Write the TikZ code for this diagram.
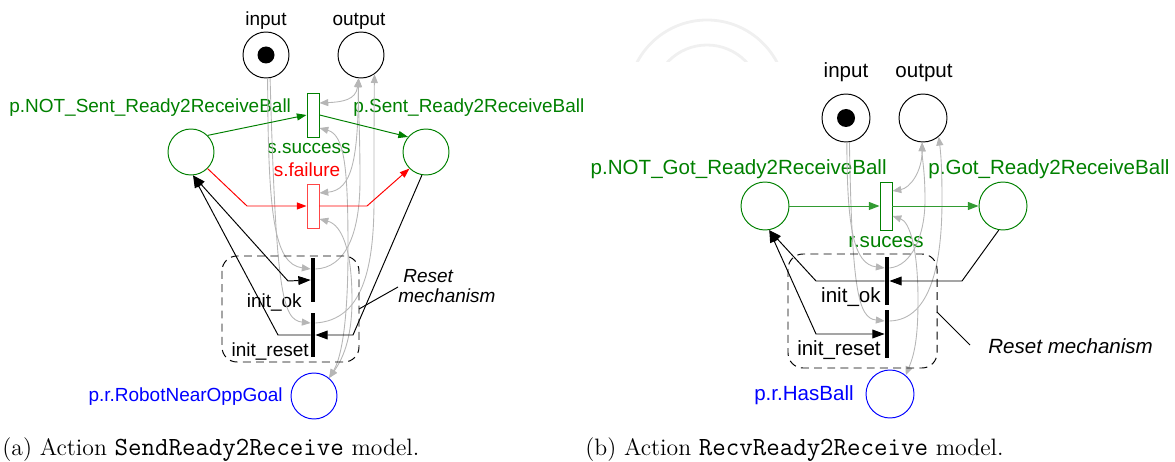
\documentclass[tikz,border=0pt]{standalone}
\usepackage{fontspec}
\newfontfamily\netfont{Liberation Sans}
\usetikzlibrary{arrows.meta,calc}

\definecolor{pgreen}{RGB}{0,128,0}
\definecolor{pgreenL}{RGB}{50,155,50}
\definecolor{pred}{RGB}{255,0,0}
\definecolor{predL}{RGB}{255,70,70}
\definecolor{pblue}{RGB}{0,0,255}
\definecolor{arcgray}{RGB}{182,182,182}

\newcommand{\capcode}[1]{{\ttfamily\fontsize{14.9}{16}\selectfont #1}}

\tikzset{
  Btip/.tip={Triangle[length=7pt,width=5pt]},
  Gtip/.tip={Triangle[length=5pt,width=4pt]},
  placeA/.style={circle,draw,line width=0.55pt,minimum size=0.92cm,inner sep=0pt},
  placeB/.style={circle,draw,line width=0.55pt,minimum size=0.96cm,inner sep=0pt},
  tokenA/.style={circle,fill=black,minimum size=0.34cm,inner sep=0pt},
  tokenB/.style={circle,fill=black,minimum size=0.36cm,inner sep=0pt},
  tboxA/.style={rectangle,draw,line width=0.55pt,minimum width=0.24cm,minimum height=0.88cm,inner sep=0pt,fill=white},
  tboxB/.style={rectangle,draw,line width=0.55pt,minimum width=0.24cm,minimum height=0.96cm,inner sep=0pt,fill=white},
  tbarA/.style={rectangle,fill=black,minimum width=0.08cm,minimum height=0.9cm,inner sep=0pt},
  tbarB/.style={rectangle,fill=black,minimum width=0.08cm,minimum height=0.96cm,inner sep=0pt},
  lblA/.style={inner sep=0pt,font=\netfont\fontsize{10.8}{13}\selectfont},
  lblB/.style={inner sep=0pt,font=\netfont\fontsize{11.7}{14}\selectfont},
  capt/.style={inner sep=0pt,anchor=base west,font=\fontsize{13.5}{16}\selectfont},
  blk/.style={draw=black,line width=0.55pt},
  grn/.style={draw=pgreen,line width=0.55pt},
  grnL/.style={draw=pgreenL,line width=0.55pt},
  rd/.style={draw=pred,line width=0.55pt},
  gry/.style={draw=arcgray,line width=0.5pt},
  resetbox/.style={draw=black,line width=0.55pt,dash pattern=on 4.5pt off 3pt,rounded corners=0.3cm},
}

\begin{document}
\begin{tikzpicture}[x=0.02cm,y=-0.02cm]
\useasboundingbox (0,0) rectangle (1175,462);

% faint arcs at the top
\begin{scope}
  \clip (600,0) rectangle (800,62);
  \draw[gray!12,line width=1.6pt] (707,99) circle (79);
  \draw[gray!12,line width=1.6pt] (707,99) circle (54);
\end{scope}

% ================= SendReady2Receive =================
\node[placeA] (in1) at (266,55) {};
\node[tokenA] (tk1) at (in1) {};
\node[placeA] (out1) at (361,55) {};
\node[placeA,draw=pgreen] (nots) at (191,152) {};
\node[placeA,draw=pgreen] (sent) at (426,152) {};
\node[placeA,draw=pblue] (blue1) at (314,396) {};
\node[tboxA,draw=pgreen] (ss) at (313,115) {};
\node[tboxA,draw=predL] (sf) at (313,206) {};
\node[tbarA] (ok1) at (313,280) {};
\node[tbarA] (rs1) at (313,335) {};

\node[lblA,anchor=base] (tin1) at (266,26) {input};
\node[lblA,anchor=base] (tout1) at (359,26) {output};
\node[lblA,anchor=base west,text=pgreen] (tnots) at (9,113) {p.NOT\_Sent\_Ready2ReceiveBall};
\node[lblA,anchor=base west,text=pgreen] (tsent) at (353,113) {p.Sent\_Ready2ReceiveBall};
\node[lblA,anchor=base,text=pgreen] (tss) at (309,154) {s.success};
\node[lblA,anchor=base,text=pred] (tsf) at (307,177) {s.failure};
\node[lblA,anchor=base east] (tok1) at (302,307) {init\_ok};
\node[lblA,anchor=base east] (trs1) at (309,356) {init\_reset};
\node[lblA,anchor=base east,text=pblue] (tblue1) at (283,401) {p.r.RobotNearOppGoal};
\node[lblA,anchor=base west,font=\netfont\itshape\fontsize{10.8}{13}\selectfont] (trst1) at (403,282) {Reset};
\node[lblA,anchor=base west,font=\netfont\itshape\fontsize{10.8}{13}\selectfont] (tmech1) at (398,302) {mechanism};

% gray arcs
\draw[gry,-Gtip] (in1.-86) .. controls (268,215) and (274,264) .. ($(ok1.west)+(0,-11)$);
\draw[gry,-Gtip] (in1.-80) .. controls (276,290) and (282,320) .. ($(rs1.west)+(0,-12)$);
\draw[gry,-Gtip] ($(ok1.east)+(0,-11)$) .. controls (345,268) and (360,235) .. (360,180)
                 .. controls (360,130) and (358,105) .. (out1.-96);
\draw[gry,-Gtip] ($(rs1.east)+(0,-12)$) .. controls (362,320) and (374,270) .. (374,200)
                 .. controls (374,150) and (374,105) .. (out1.-55);
\draw[gry,Gtip-Gtip] ($(ss.east)+(0,-12)$) .. controls (342,102) and (356,100) .. (out1.-96);
\draw[gry,Gtip-Gtip] ($(sf.east)+(0,-13)$) .. controls (352,190) and (358,160) .. (out1.-96);
\draw[gry,Gtip-Gtip] ($(ss.east)+(0,13)$) .. controls (345,135) and (348,170) .. (348,250)
                 .. controls (348,330) and (340,360) .. (blue1.50);
\draw[gry,Gtip-Gtip] ($(sf.east)+(0,13)$) .. controls (342,225) and (352,250) .. (352,300)
                 .. controls (352,340) and (342,360) .. (blue1.50);

% green and red arcs
\draw[grn,-{Triangle[length=5.5pt,width=4pt]}] (nots.45) -- (ss.west);
\draw[grn,-{Triangle[length=5.5pt,width=4pt]}] (ss.east) -- (sent.140);
\coordinate (fl1) at (247,206);
\coordinate (fr1) at (367,206);
\draw[rd,-{Triangle[length=5.5pt,width=4pt]}] (nots.-45) -- (fl1) -- (sf.west);
\draw[rd,-{Triangle[length=5.5pt,width=4pt]}] (sf.east) -- (fr1) -- (sent.-135);

% reset arcs
\coordinate (kl1) at (288,281);
\coordinate (rl1) at (278,335);
\coordinate (rr1) at (353,335);
\draw[blk,Btip-Btip] (nots.-85) -- (kl1) -- (ok1.west);
\draw[blk,Btip-] (nots.-85) -- (rl1) -- (rs1.west);
\draw[blk,-Btip] (sent.-100) -- (rr1) -- (rs1.east);

% reset mechanism frame
\draw[resetbox] (222,256) rectangle (359,362);
\coordinate (rp1) at (398,287);
\coordinate (rq1) at (359,309);
\draw[blk] (rp1) -- (rq1);

% ================= RecvReady2Receive =================
\node[placeB] (in2) at (846,118) {};
\node[tokenB] (tk2) at (in2) {};
\node[placeB] (out2) at (923,118) {};
\node[placeB,draw=pgreen] (notg) at (765,206) {};
\node[placeB,draw=pgreen] (got) at (1003,206) {};
\node[placeB,draw=pblue] (blue2) at (890,394) {};
\node[tboxB,draw=pgreen] (rsu) at (886,206) {};
\node[tbarB] (ok2) at (887,281) {};
\node[tbarB] (rs2) at (887,334) {};

\node[lblB,anchor=base] (tin2) at (846,78) {input};
\node[lblB,anchor=base] (tout2) at (924,78) {output};
\node[lblB,anchor=base east,text=pgreen] (tnotg) at (887,175) {p.NOT\_Got\_Ready2ReceiveBall};
\node[lblB,anchor=base west,text=pgreen] (tgot) at (928,175) {p.Got\_Ready2ReceiveBall};
\node[lblB,anchor=base,text=pgreen] (trsu) at (886,248) {r.sucess};
\node[lblB,anchor=base east] (tok2) at (881,302) {init\_ok};
\node[lblB,anchor=base east] (trs2) at (881,355) {init\_reset};
\node[lblB,anchor=base east,text=pblue] (tblue2) at (854,400) {p.r.HasBall};
\node[lblB,anchor=base west,font=\netfont\itshape\fontsize{11.7}{14}\selectfont] (trst2) at (988,353) {Reset mechanism};

% gray arcs
\draw[gry,-Gtip] (in2.-88) .. controls (847,230) and (854,264) .. ($(ok2.west)+(0,-13)$);
\draw[gry,-Gtip] (in2.-82) .. controls (852,290) and (858,318) .. ($(rs2.west)+(0,-13)$);
\draw[gry,-Gtip] ($(ok2.east)+(0,-13)$) .. controls (912,266) and (925,235) .. (925,200)
                 .. controls (925,170) and (922,160) .. (out2.-92);
\draw[gry,-Gtip] ($(rs2.east)+(0,-13)$) .. controls (932,320) and (942,260) .. (942,200)
                 .. controls (942,170) and (941,155) .. (out2.-50);
\draw[gry,Gtip-Gtip] ($(rsu.east)+(0,-15)$) .. controls (910,188) and (922,172) .. (out2.-92);
\draw[gry,Gtip-Gtip] ($(rsu.east)+(0,10)$) .. controls (910,222) and (918,250) .. (918,300)
                 .. controls (918,340) and (914,355) .. (blue2.50);

% green arcs
\draw[grnL,-{Triangle[length=6pt,width=4.5pt]}] (notg.east) -- (rsu.west);
\draw[grnL,-{Triangle[length=6pt,width=4.5pt]}] (rsu.east) -- (got.west);

% reset arcs
\coordinate (kl2) at (816,281);
\coordinate (rl2) at (816,334);
\coordinate (kr2) at (962,281);
\draw[blk,Btip-] (notg.-80) -- (kl2) -- (ok2.west);
\draw[blk,Btip-Btip] (notg.-80) -- (rl2) -- (rs2.west);
\draw[blk,-Btip] (got.-100) -- (kr2) -- (ok2.east);

% reset mechanism frame
\draw[resetbox] (788,254) rectangle (937,368);
\coordinate (rp2) at (970,345);
\coordinate (rq2) at (937,312);
\draw[blk] (rp2) -- (rq2);

% ================= captions =================
\node[capt] (capa) at (2,455) {(a) Action \capcode{SendReady2Receive} model.};
\node[capt] (capb) at (585,455) {(b) Action \capcode{RecvReady2Receive} model.};
\end{tikzpicture}
\end{document}
